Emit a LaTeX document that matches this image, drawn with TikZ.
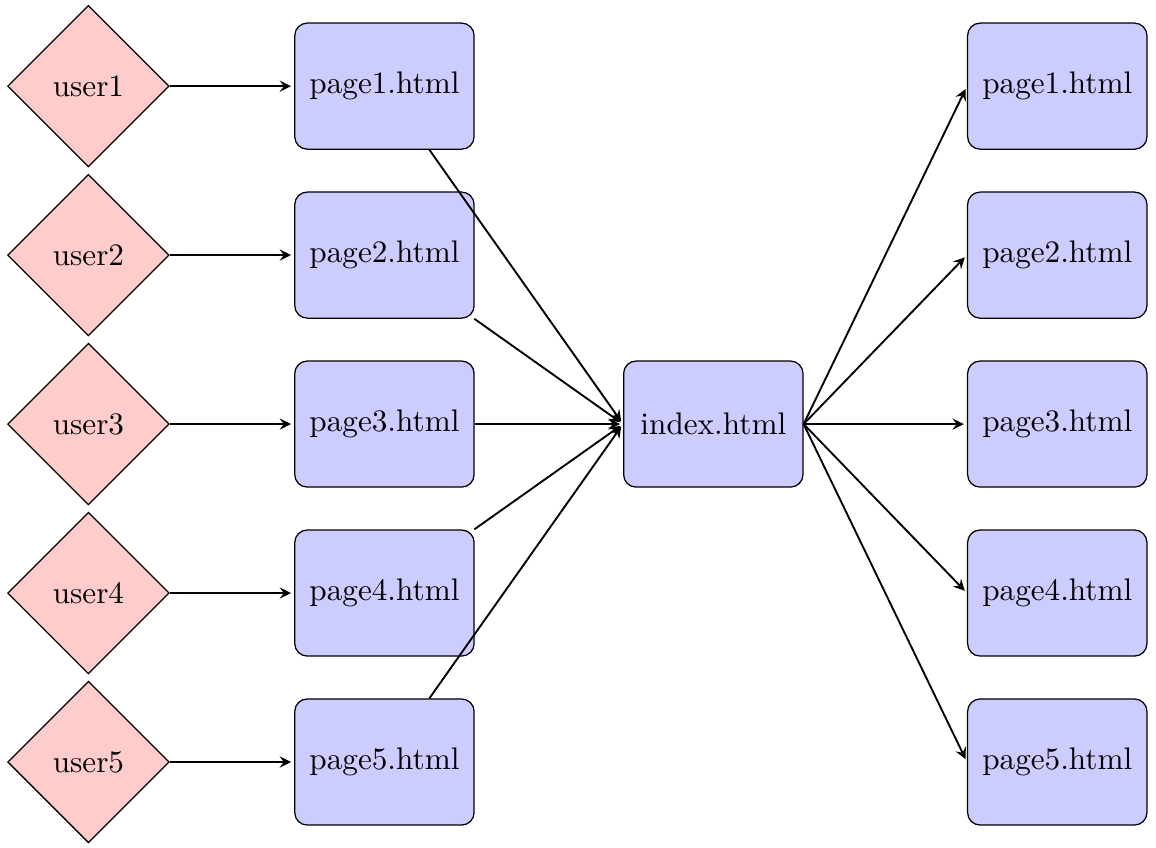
\documentclass[tikz,border=0pt]{standalone}
\usepackage{tikz}
\usetikzlibrary{shapes.geometric}
\usetikzlibrary{positioning}
\usetikzlibrary{arrows}

\begin{document}
\begin{tikzpicture}[%
    node distance = 0.469cm,
    basic/.style={draw,text badly centered},
    user/.style={basic,diamond,fill=red!20,minimum size=1.82cm,inner sep=0pt},
    page/.style={basic,rectangle,rounded corners=4pt,fill=blue!20,minimum width=2.02cm,minimum height=1.42cm},
    link/.style={draw,semithick,-stealth,shorten >=1pt}
]
        \useasboundingbox (-4.33,0.97) rectangle (8.69,-8.57);
        \node[page] (p1) at (0,0) {page1.html};
        \node[below = of p1, page] (p2) {page2.html};
        \node[below = of p2, page] (p3) {page3.html};
        \node[below = of p3, page] (p4) {page4.html};
        \node[below = of p4, page] (p5) {page5.html};
        
        \node[left = 1.4cm of p1, user] (u1) {user1};
        \node[left = 1.4cm of p2, user] (u2) {user2};
        \node[left = 1.4cm of p3, user] (u3) {user3};
        \node[left = 1.4cm of p4, user] (u4) {user4};
        \node[left = 1.4cm of p5, user] (u5) {user5};
        
        \node[right = 1.67cm of p3, page] (index) {index.html};
        
        \node[right = 1.84cm of index, page] (r3) {page3.html};
        \node[above = of r3, page] (r2) {page2.html};
        \node[above = of r2, page] (r1) {page1.html};
        \node[below = of r3, page] (r4) {page4.html};
        \node[below = of r4, page] (r5) {page5.html};
        
        \foreach \i in {1,...,5} {
            \path[link] (u\i) -- (p\i);
            \path[link] (p\i) -- (index.west);
            \path[link] (index.east) -- (r\i.west);
        }
\end{tikzpicture}
\end{document}
